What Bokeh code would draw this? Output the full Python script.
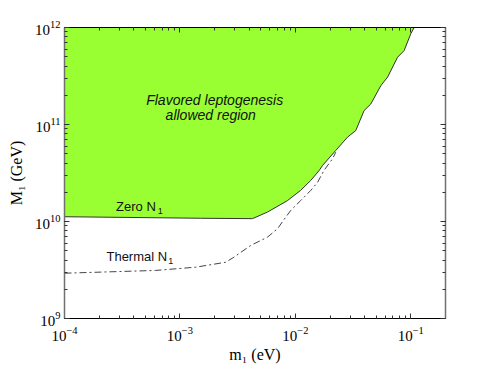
from bokeh.plotting import figure
from bokeh.models import LogAxis, Label, LogTicker
from bokeh.embed import file_html
from bokeh.resources import INLINE

# "Zero N1" boundary of the flavored-leptogenesis allowed region
zero_m1 = [1.0e-4, 1.5e-3, 4.25e-3, 5.73e-3, 8.53e-3, 1.11e-2, 1.36e-2, 1.61e-2,
           1.72e-2, 2.24e-2, 2.83e-2, 3.34e-2, 3.94e-2, 4.51e-2, 5.51e-2, 6.30e-2,
           7.69e-2, 8.77e-2, 0.100, 0.107]
zero_M1 = [1.12e10, 1.08e10, 1.07e10, 1.25e10, 1.64e10, 2.09e10, 2.65e10, 3.36e10,
           3.78e10, 5.40e10, 7.40e10, 8.67e10, 1.39e11, 1.63e11, 2.52e11, 3.08e11,
           4.94e11, 5.79e11, 8.61e11, 1.0e12]

# "Thermal N1" boundary
thermal_m1 = [1.0e-4, 6.15e-4, 1.37e-3, 2.49e-3, 2.94e-3, 4.10e-3, 5.73e-3, 7.00e-3,
              8.26e-3, 9.12e-3, 1.11e-2, 1.36e-2, 1.56e-2, 1.77e-2, 2.10e-2, 2.24e-2]
thermal_M1 = [2.93e9, 3.13e9, 3.38e9, 3.80e9, 4.29e9, 5.66e9, 6.89e9, 8.41e9,
              1.11e10, 1.30e10, 1.64e10, 2.09e10, 2.54e10, 3.36e10, 4.43e10, 5.18e10]

x_limits = (1e-4, 0.2)
y_limits = (1e9, 1e12)

GREEN = "#99ff33"
SERIF = "Liberation Serif"
SANS = "Liberation Sans"

p = figure(x_axis_type="log", y_axis_type="log",
           x_range=x_limits, y_range=y_limits,
           frame_width=381, frame_height=291,
           min_border_left=64, min_border_right=30,
           min_border_top=27, min_border_bottom=35,
           x_axis_label="m\u2081 (eV)", y_axis_label="M\u2081 (GeV)",
           output_backend="svg", toolbar_location=None)
p.outline_line_color = None
p.xgrid.visible = False
p.ygrid.visible = False
p.background_fill_color = "white"
p.border_fill_color = "white"

bottom = p.below[0]
left = p.left[0]

# allowed region: above the Zero N1 curve up to the top-left corner
region_x = zero_m1 + [x_limits[0]]
region_y = zero_M1 + [y_limits[1]]
p.patch(region_x, region_y, fill_color=GREEN, line_color=None)
p.line(zero_m1, zero_M1, line_color="#333333", line_width=1)
p.line(thermal_m1, thermal_M1, line_color="#444444", line_width=1,
       line_dash="7 3 2 3")

top = LogAxis(ticker=LogTicker(num_minor_ticks=10))
right = LogAxis(ticker=LogTicker(num_minor_ticks=10))
p.add_layout(top, "above")
p.add_layout(right, "right")

for ax in [bottom, left, top, right]:
    ax.major_tick_out = 0
    ax.major_tick_in = 5
    ax.minor_tick_out = 0
    ax.minor_tick_in = 3
    ax.major_tick_line_color = "#333333"
    ax.minor_tick_line_color = "#333333"
    ax.major_label_text_font = SERIF
    ax.major_label_text_font_size = "15px"
    ax.major_label_text_color = "black"
    ax.axis_label_text_font = SERIF
    ax.axis_label_text_font_size = "16px"
    ax.axis_label_text_font_style = "normal"
    ax.axis_label_text_color = "black"

bottom.ticker = LogTicker(num_minor_ticks=10)
left.ticker = LogTicker(num_minor_ticks=10)
bottom.major_label_standoff = 8
left.major_label_standoff = 4
bottom.axis_label_standoff = 2
left.axis_label_standoff = 7

for ax in [top, right]:
    ax.major_label_text_font_size = "6px"
    ax.major_label_text_color = None
    ax.major_label_standoff = 0

bottom.axis_line_color = "black"
top.axis_line_color = "black"
left.axis_line_color = "#707070"
left.axis_line_width = 1.5
right.axis_line_color = "#707070"
right.axis_line_width = 1.5

def add_text(x, y, text, font, size, style="normal", align="left"):
    p.add_layout(Label(x=x, y=y, text=text, text_font=font, text_font_size=size,
                       text_font_style=style, text_align=align,
                       text_baseline="alphabetic", text_color="#111111"))

# annotation inside the plot
add_text(2.0e-3, 1.77e11, "Flavored leptogenesis", SANS, "14px", "italic", "center")
add_text(1.85e-3, 1.24e11, "allowed region", SANS, "14px", "italic", "center")
add_text(2.80e-4, 1.44e10, "Zero N", SANS, "13px")
add_text(6.41e-4, 1.27e10, "1", SANS, "9px")
add_text(2.31e-4, 4.39e9, "Thermal N", SANS, "13px")
add_text(7.91e-4, 3.87e9, "1", SANS, "9px")

open("out.html", "w").write(file_html(p, INLINE))
